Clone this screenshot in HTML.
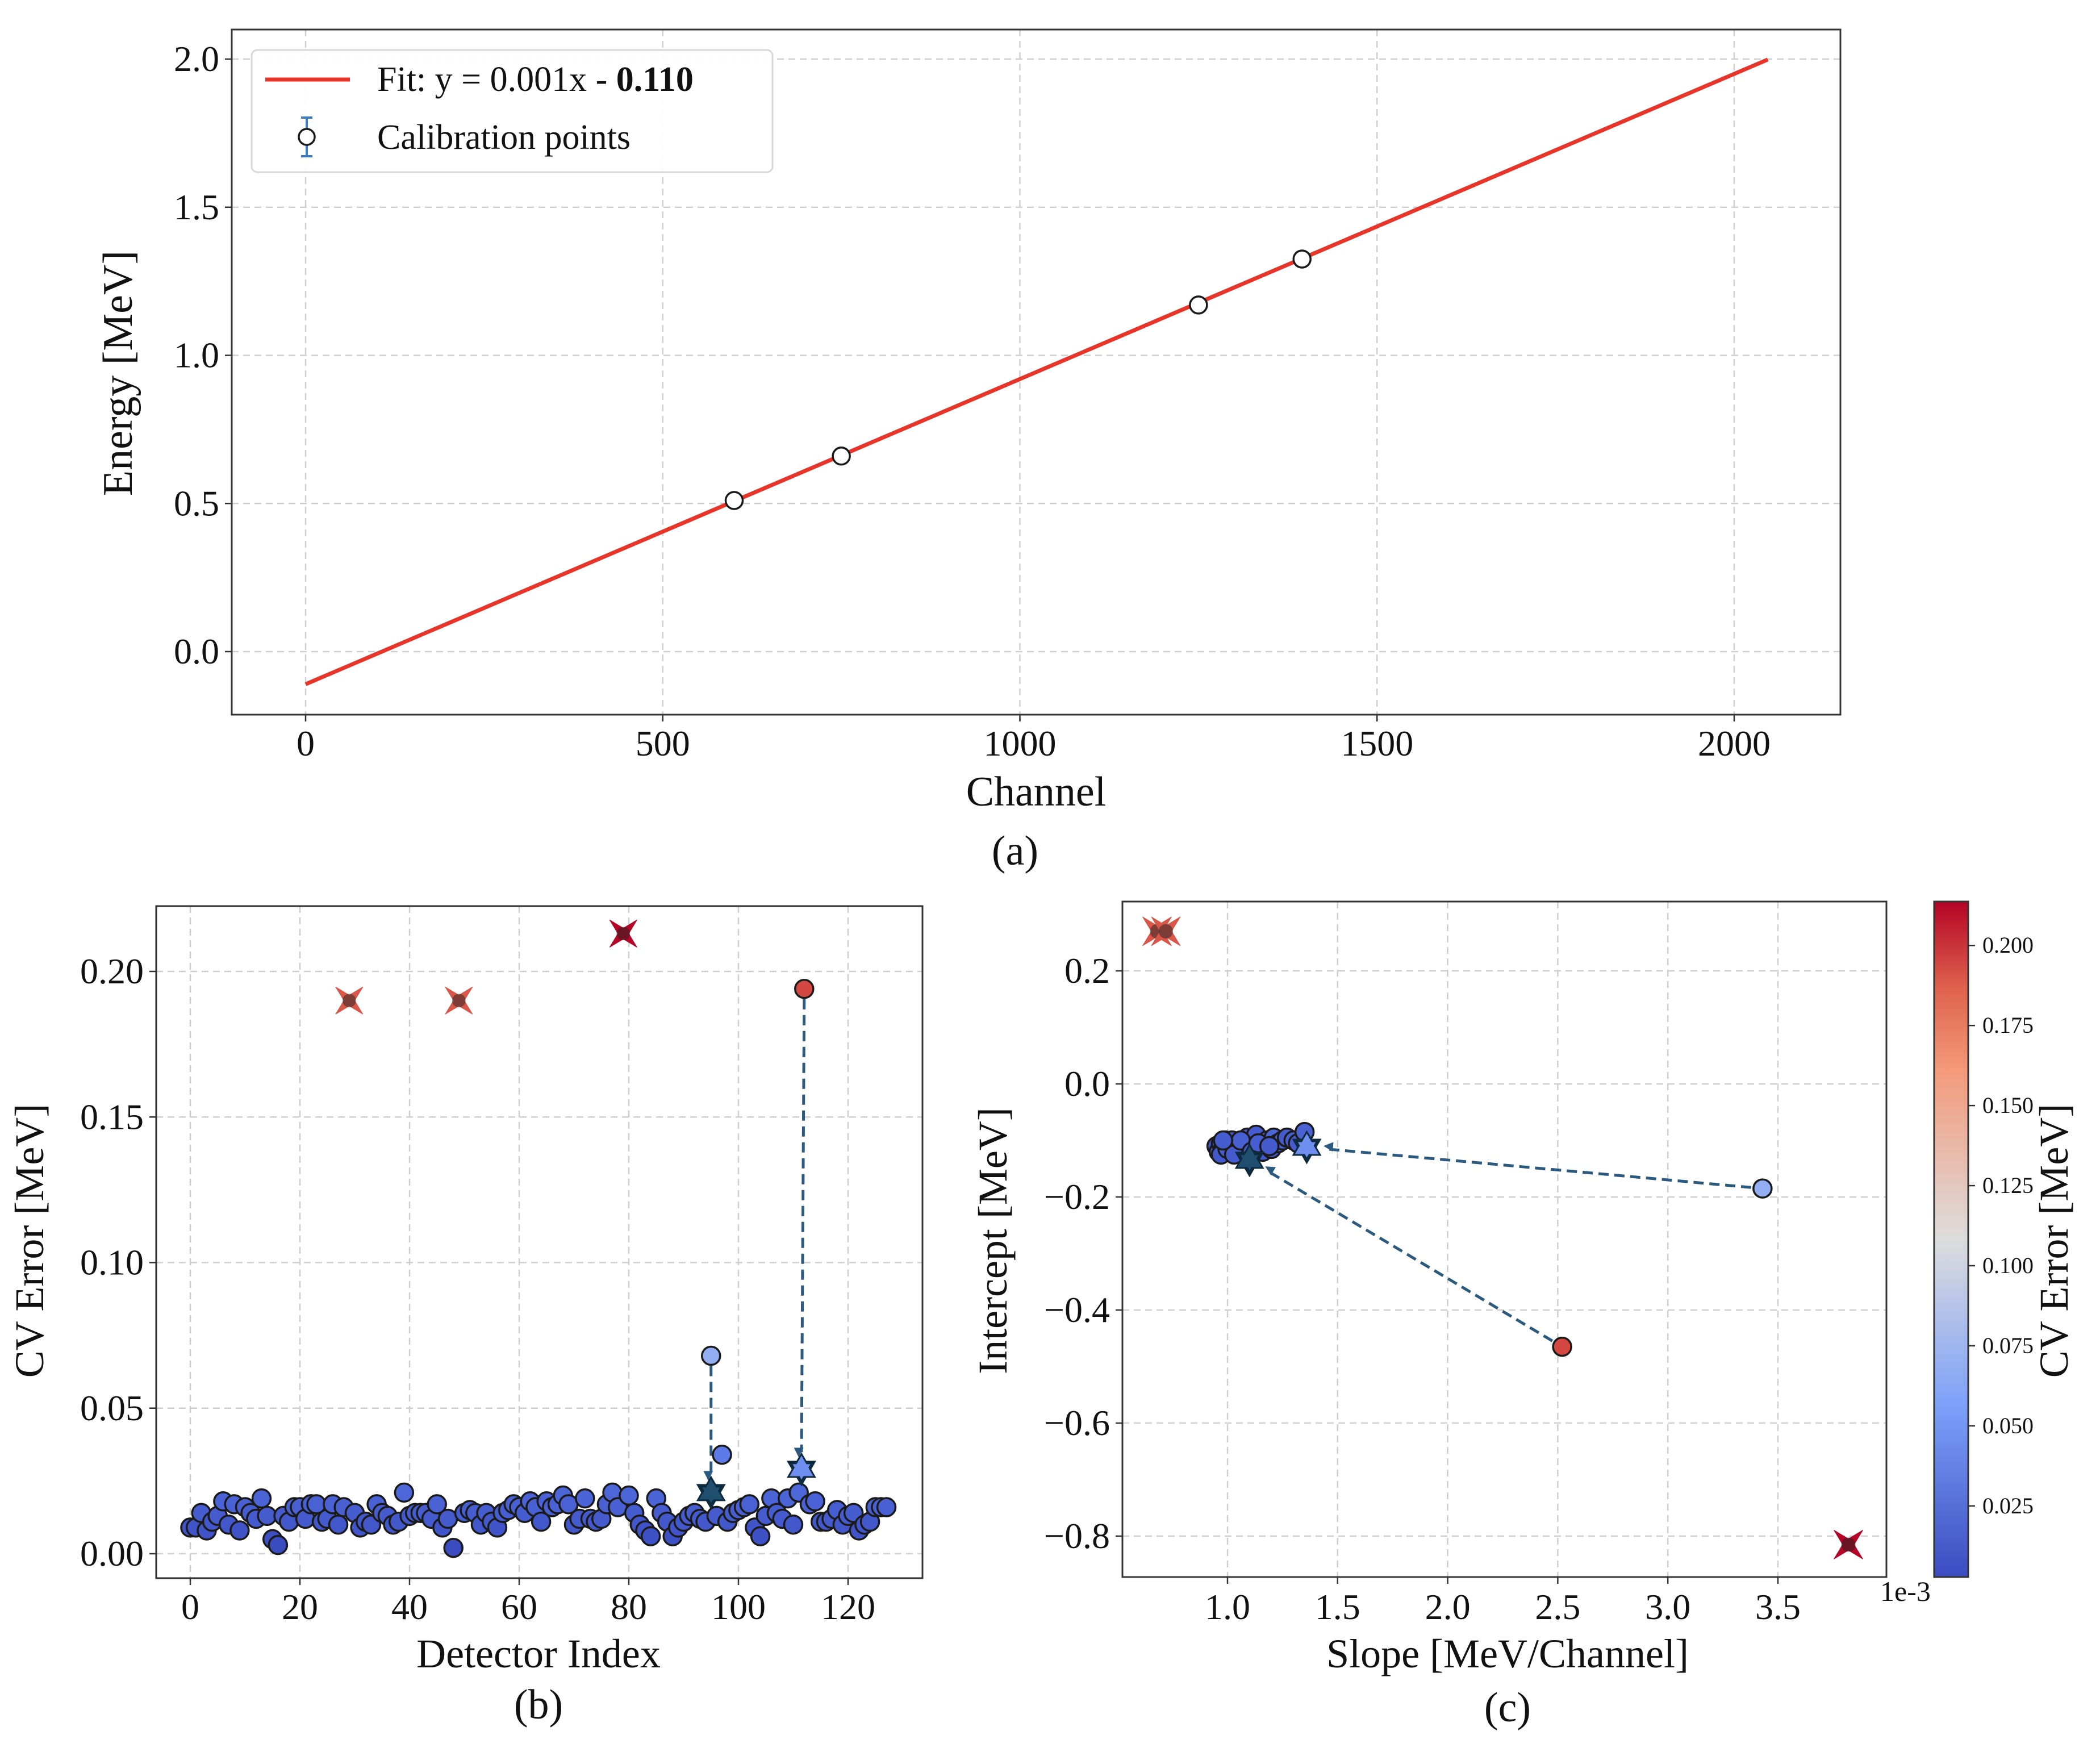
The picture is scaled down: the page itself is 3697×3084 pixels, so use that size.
<!DOCTYPE html>
<html><head><meta charset="utf-8"><style>
html,body{margin:0;padding:0;background:#fff}
svg{display:block;font-family:"Liberation Serif",serif}
</style></head><body>
<svg id="s" width="3697" height="3084" viewBox="0 0 3697 3084" xmlns="http://www.w3.org/2000/svg">
<defs>
<marker id="ah" viewBox="0 0 10 10" refX="9" refY="5" markerWidth="7" markerHeight="7" orient="auto-start-reverse" markerUnits="userSpaceOnUse" style="overflow:visible"><path d="M0,0 L10,5 L0,10 z" fill="#2b5a7e" transform="scale(2.4) translate(-6,-5) translate(5,5)"/></marker>
<linearGradient id="cbg" x1="0" y1="1" x2="0" y2="0">
<stop offset="0" stop-color="#3b4cc0"/><stop offset="0.25" stop-color="#7b9ff9"/><stop offset="0.5" stop-color="#dddddd"/><stop offset="0.75" stop-color="#f49a7b"/><stop offset="0.875" stop-color="#dd604c"/><stop offset="1" stop-color="#b40426"/>
</linearGradient>
</defs>
<g id="ga"></g>
<g id="gb"></g>
<g id="gc"></g>
</svg>
<script>
// ---- Panel (a) data ----
const aXTicks=[0,500,1000,1500,2000];
const aYTicks=[0.0,0.5,1.0,1.5,2.0];
const fitSlope=0.00103, fitIntercept=-0.110, fitXMax=2047;
const calChannels=[600,750,1250,1395];
const calEnergies=[0.51,0.66,1.17,1.325];
// ---- Panel (b) data ----
const bXTicks=[0,20,40,60,80,100,120];
const bYTicks=[0.00,0.05,0.10,0.15,0.20];
const cvErrors=[0.009,0.009,0.014,0.008,0.011,0.013,0.018,0.010,0.017,0.008,0.016,0.014,0.012,0.019,0.013,0.005,0.003,0.013,0.011,0.016,0.016,0.012,0.017,0.017,0.011,0.012,0.017,0.010,0.016,0.190,0.014,0.009,0.011,0.010,0.017,0.014,0.013,0.010,0.011,0.021,0.013,0.014,0.014,0.014,0.012,0.017,0.009,0.012,0.002,0.190,0.014,0.015,0.014,0.010,0.014,0.011,0.009,0.014,0.015,0.017,0.016,0.014,0.018,0.016,0.011,0.018,0.016,0.017,0.020,0.017,0.010,0.012,0.019,0.012,0.011,0.012,0.017,0.021,0.016,0.213,0.020,0.014,0.010,0.008,0.006,0.019,0.014,0.011,0.006,0.009,0.011,0.013,0.014,0.012,0.011,0.068,0.013,0.034,0.011,0.014,0.015,0.016,0.017,0.009,0.006,0.013,0.019,0.014,0.012,0.019,0.010,0.021,0.194,0.017,0.018,0.011,0.011,0.012,0.015,0.010,0.013,0.014,0.008,0.010,0.011,0.016,0.016,0.016];
const rejectedIdx=[29,49,79];
const correctedIdx=[95,112];
const correctedX=[95,111.5];
const correctedErr=[0.021,0.029];
// ---- Panel (c) data ----
const cXTicks=[1.0,1.5,2.0,2.5,3.0,3.5];
const cYTicks=[0.2,0.0,-0.2,-0.4,-0.6,-0.8];
const cbTicks=[0.025,0.050,0.075,0.100,0.125,0.150,0.175,0.200];
const clusterSlope=[0.95,0.96,0.97,0.98,0.99,1.00,1.01,1.02,1.04,1.05,1.06,1.07,1.08,1.09,1.10,1.12,1.13,1.15,1.16,1.18,1.20,1.21,1.23,1.25,1.27,1.30,1.32,1.35,0.97,1.00,1.03,1.06,1.11,1.14,1.19,0.98];
const clusterIntercept=[-0.11,-0.12,-0.105,-0.115,-0.10,-0.12,-0.11,-0.10,-0.115,-0.105,-0.12,-0.11,-0.10,-0.095,-0.115,-0.11,-0.09,-0.105,-0.12,-0.10,-0.115,-0.095,-0.105,-0.10,-0.095,-0.10,-0.105,-0.085,-0.125,-0.115,-0.125,-0.10,-0.12,-0.105,-0.11,-0.10];
const clusterErr=[0.009,0.012,0.014,0.010,0.016,0.012,0.017,0.013,0.011,0.015,0.018,0.012,0.014,0.016,0.010,0.019,0.013,0.015,0.011,0.017,0.013,0.020,0.014,0.016,0.012,0.015,0.013,0.017,0.011,0.014,0.012,0.016,0.013,0.015,0.012,0.014];
const rejSlope=[0.68,0.72,3.82], rejIntercept=[0.27,0.27,-0.815], rejErr=[0.190,0.190,0.213];
const outSlope=[3.43,2.52], outIntercept=[-0.185,-0.465], outErr=[0.068,0.194];
const fixSlope=[1.36,1.10], fixIntercept=[-0.112,-0.135], fixErr=[0.021,0.029];

const NS="http://www.w3.org/2000/svg";
function mk(p,tag,at,txt){const e=document.createElementNS(NS,tag);for(const k in at)e.setAttribute(k,at[k]);if(txt!==undefined)e.textContent=txt;p.appendChild(e);return e;}
function lin(d0,d1,r0,r1){return v=>r0+(v-d0)*(r1-r0)/(d1-d0);}
const vmin=0.0028,vmax=0.2137;
const stops=[[0,[59,76,192]],[0.125,[85,115,228]],[0.25,[123,159,249]],[0.5,[221,221,221]],[0.75,[244,154,123]],[0.875,[221,96,76]],[1,[180,4,38]]];
function cmap(v){let t=Math.max(0,Math.min(1,(v-vmin)/(vmax-vmin)));for(let i=0;i<stops.length-1;i++){const [a,ca]=stops[i],[b,cb]=stops[i+1];if(t<=b){const f=(t-a)/(b-a);return 'rgb('+ca.map((c,j)=>Math.round(c+(cb[j]-c)*f)).join(',')+')';}}return 'rgb(180,4,38)';}
function fmt(v,d){return v<0?'\u2212'+Math.abs(v).toFixed(d):v.toFixed(d);}
function frame(g,x0,y0,x1,y1){
 const r=mk(g,'rect',{x:x0,y:y0,width:x1-x0,height:y1-y0,fill:'none',stroke:'#333',"stroke-width":3});
 }
function grid(g,isX,pos,a,b){
 const l=isX?mk(g,'line',{x1:pos,x2:pos,y1:a,y2:b}):mk(g,'line',{y1:pos,y2:pos,x1:a,x2:b});
 l.setAttribute('stroke','#cfcfcf');l.setAttribute('stroke-width',2.5);l.setAttribute('stroke-dasharray','12,8');
 }
function tick(g,isX,pos,edge){
 const l=isX?mk(g,'line',{x1:pos,x2:pos,y1:edge,y2:edge+12}):mk(g,'line',{y1:pos,y2:pos,x1:edge-12,x2:edge});
 l.setAttribute('stroke','#333');l.setAttribute('stroke-width',2.5);
 }
function label(g,x,y,txt,size,anchor,name,rot){
 const at={x:x,y:y,"font-size":size,"text-anchor":anchor||'middle',fill:'#111'};
 if(rot)at.transform='rotate(-90 '+x+' '+y+')';
 const t=mk(g,'text',at,txt);return t;}
function xMark(g,cx,cy,r,fill){
 const k=r*0.28;const p=[];
 for(let i=0;i<4;i++){const a=Math.PI/4+i*Math.PI/2;p.push([cx+r*Math.cos(a),cy+r*Math.sin(a)]);const b=a+Math.PI/4;p.push([cx+k*Math.cos(b),cy+k*Math.sin(b)]);}
 const e=mk(g,'polygon',{points:p.map(q=>q.join(',')).join(' '),fill:fill,stroke:fill,"stroke-width":1});
 
 mk(g,'circle',{cx:cx,cy:cy,r:r*0.35,fill:'#222',opacity:0.5});}
function hexStar(g,cx,cy,r,fill){
 const tri=o=>[0,1,2].map(i=>{const a=o+i*2*Math.PI/3;return (cx+r*Math.cos(a))+','+(cy+r*Math.sin(a));}).join(' ');
 const gg=mk(g,'g',{});
 mk(gg,'polygon',{points:tri(-Math.PI/2),fill:fill,stroke:'#0e2a3e',"stroke-width":6,"stroke-linejoin":'miter'});
 mk(gg,'polygon',{points:tri(Math.PI/2),fill:fill,stroke:'#0e2a3e',"stroke-width":6,"stroke-linejoin":'miter'});
 mk(gg,'polygon',{points:tri(-Math.PI/2),fill:fill});}
function dot(g,cx,cy,r,fill,name){const c=mk(g,'circle',{cx:cx,cy:cy,r:r,fill:fill,stroke:'#1a1a1a',"stroke-width":3.5});return c;}
function arrow(g,x1,y1,x2,y2){const l=mk(g,'line',{x1:x1,y1:y1,x2:x2,y2:y2,stroke:'#2b5a7e',"stroke-width":5,"stroke-dasharray":'18,10',"marker-end":'url(#ah)'});}

// ---------- Panel A ----------
(function(){
 const g=document.getElementById('ga');
 const L=408,R=3240,T=52,B=1258;
 const X=lin(0,2000,538,3053), Y=lin(0,2,1147,104);
 aXTicks.forEach(v=>{grid(g,true,X(v),T,B);tick(g,true,X(v),B);label(g,X(v),1330,String(v),64,'middle','x-tick-label');});
 aYTicks.forEach(v=>{grid(g,false,Y(v),L,R);tick(g,false,Y(v),L);label(g,L-22,Y(v)+21,v.toFixed(1),64,'end','y-tick-label');});
 const fl=mk(g,'line',{x1:X(0),y1:Y(fitIntercept),x2:X(fitXMax),y2:Y(fitIntercept+fitSlope*fitXMax),stroke:'#e8352a',"stroke-width":7});
 
 calChannels.forEach((c,i)=>{dot(g,X(c),Y(calEnergies[i]),15,'#fff','calibration-point');});
 frame(g,L,T,R,B);
 const lg=mk(g,'g',{});
 mk(lg,'rect',{x:443,y:88,width:917,height:215,rx:10,fill:'#fff',stroke:'#d6d6d6',"stroke-width":3,opacity:0.95});
 const ll=mk(lg,'line',{x1:467,x2:616,y1:140,y2:140,stroke:'#e8352a',"stroke-width":7});
 const t1=mk(lg,'text',{x:664,y:160,"font-size":62,fill:'#111'});
 t1.appendChild(document.createTextNode('Fit: y = 0.001x - '));mk(t1,'tspan',{"font-weight":'bold'},'0.110');
 mk(lg,'line',{x1:540,x2:540,y1:207,y2:275,stroke:'#3a7dc4',"stroke-width":4});
 mk(lg,'line',{x1:530,x2:550,y1:207,y2:207,stroke:'#3a7dc4',"stroke-width":4});
 mk(lg,'line',{x1:530,x2:550,y1:275,y2:275,stroke:'#3a7dc4',"stroke-width":4});
 dot(lg,540,241,14,'#fff','legend-calibration-swatch');
 label(lg,664,262,'Calibration points',62,'start','legend-calibration-label');
 label(g,1824,1418,'Channel',74,'middle','x-axis-title');
 label(g,232,657,'Energy [MeV]',74,'middle','y-axis-title',true);
 label(g,1787,1522,'(a)',74,'middle','panel-a-caption');
})();

// ---------- Panel B ----------
(function(){
 const g=document.getElementById('gb');
 const L=275,R=1624,T=1595,B=2778;
 const X=lin(0,120,335,1493), Y=lin(0,0.2,2735,1710);
 bXTicks.forEach(v=>{grid(g,true,X(v),T,B);tick(g,true,X(v),B);label(g,X(v),2850,String(v),64,'middle','x-tick-label');});
 bYTicks.forEach(v=>{grid(g,false,Y(v),L,R);tick(g,false,Y(v),L);label(g,L-22,Y(v)+21,v.toFixed(2),64,'end','y-tick-label');});
 correctedIdx.forEach((idx,k)=>{arrow(g,X(idx),Y(cvErrors[idx])+18,X(correctedX[k]),Y(correctedErr[k])-30);});
 cvErrors.forEach((v,i)=>{
  if(rejectedIdx.includes(i)){xMark(g,X(i),Y(v),34,cmap(v));return;}
  dot(g,X(i),Y(v),16,cmap(v),'detector-point');
 });
 correctedIdx.forEach((idx,k)=>{hexStar(g,X(correctedX[k]),Y(correctedErr[k]),24,k===0?'#1f4e6e':'#6f8ff0');});
 frame(g,L,T,R,B);
 label(g,948,2935,'Detector Index',72,'middle','x-axis-title');
 label(g,76,2184,'CV Error [MeV]',72,'middle','y-axis-title',true);
 label(g,948,3025,'(b)',74,'middle','panel-b-caption');
})();

// ---------- Panel C ----------
(function(){
 const g=document.getElementById('gc');
 const L=1976,R=3321,T=1587,B=2776;
 const X=lin(1.0,3.5,2161,3130), Y=lin(0,-0.8,1908,2704);
 cXTicks.forEach(v=>{grid(g,true,X(v),T,B);tick(g,true,X(v),B);label(g,X(v),2850,v.toFixed(1),64,'middle','x-tick-label');});
 cYTicks.forEach(v=>{grid(g,false,Y(v),L,R);tick(g,false,Y(v),L);label(g,L-22,Y(v)+21,fmt(v,1),64,'end','y-tick-label');});
 outSlope.forEach((s,i)=>{const k=i===0?0:1;const x2=X(fixSlope[k]),y2=Y(fixIntercept[k]);const x1=X(s),y1=Y(outIntercept[i]);
  const dx=x2-x1,dy=y2-y1,d=Math.hypot(dx,dy);arrow(g,x1+dx/d*20,y1+dy/d*20,x2-dx/d*38,y2-dy/d*38);});
 clusterSlope.forEach((s,i)=>dot(g,X(s),Y(clusterIntercept[i]),16,cmap(clusterErr[i]),'fit-point'));
 outSlope.forEach((s,i)=>dot(g,X(s),Y(outIntercept[i]),16,cmap(outErr[i]),'outlier-point'));
 rejSlope.forEach((s,i)=>xMark(g,X(s),Y(rejIntercept[i]),36,cmap(rejErr[i])));
 fixSlope.forEach((s,i)=>hexStar(g,X(s),Y(fixIntercept[i]),24,i===0?'#6f8ff0':'#1f4e6e'));
 frame(g,L,T,R,B);
 label(g,3310,2818,'1e-3',50,'start','x-offset-label');
 label(g,2654,2935,'Slope [MeV/Channel]',72,'middle','x-axis-title');
 label(g,1772,2184,'Intercept  [MeV]',72,'middle','y-axis-title',true);
 label(g,2654,3030,'(c)',74,'middle','panel-c-caption');
 const cb=mk(g,'rect',{x:3405,y:1587,width:60,height:1189,fill:'url(#cbg)',stroke:'#333',"stroke-width":3});
 
 const CY=lin(vmin,vmax,2776,1587);
 cbTicks.forEach(v=>{const y=CY(v);const t=mk(g,'line',{x1:3465,x2:3477,y1:y,y2:y,stroke:'#333',"stroke-width":2.5});
  label(g,3490,y+13,v.toFixed(3),40,'start','colorbar-tick-label');});
 label(g,3640,2184,'CV Error [MeV]',72,'middle','colorbar-title',true);
})();
</script>
</body></html>
